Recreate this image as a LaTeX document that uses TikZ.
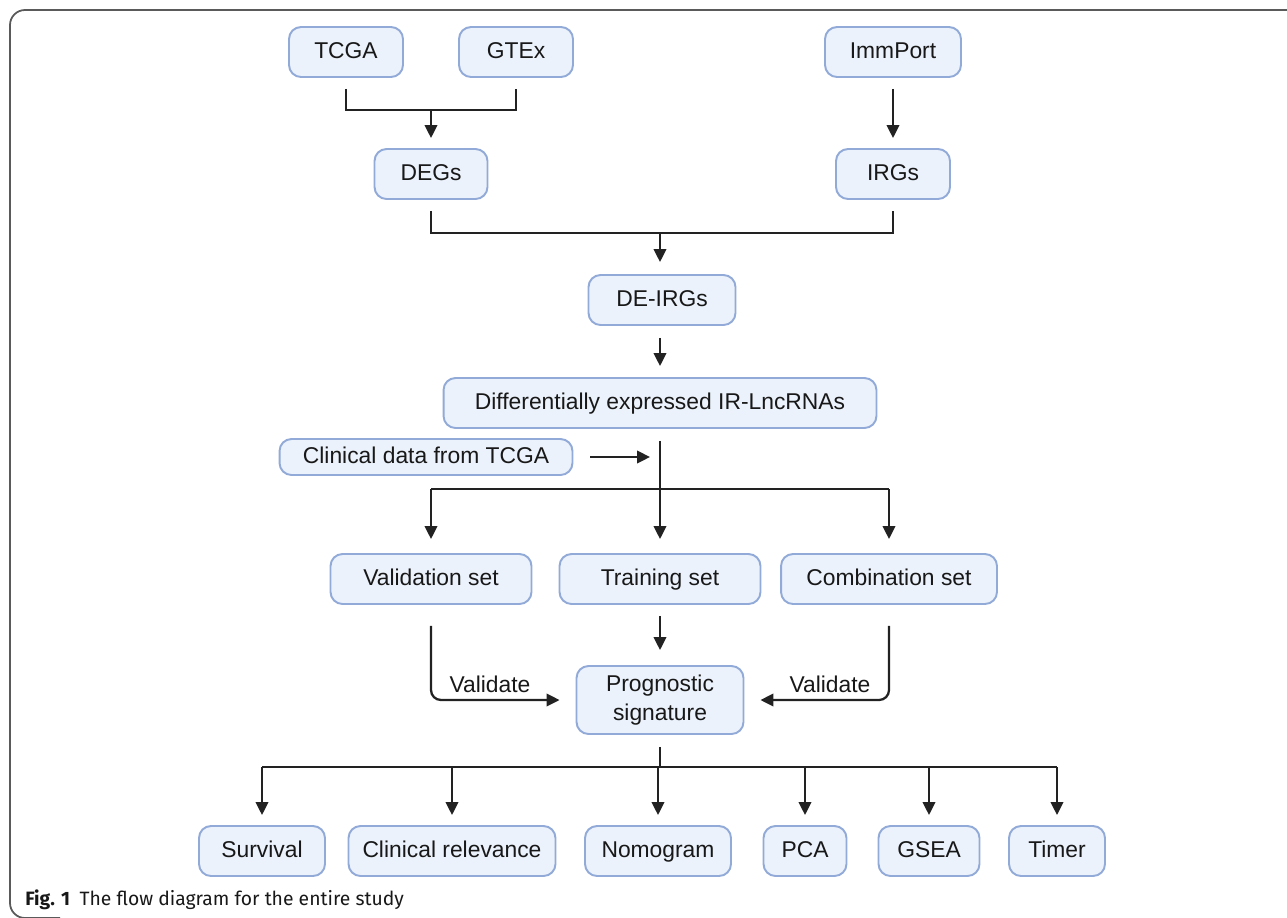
\documentclass[tikz,border=0pt]{standalone}
\usepackage{fontspec}
\setmainfont{Liberation Sans}
\newfontfamily\capfont{Fira Sans}
\usetikzlibrary{arrows.meta}

\definecolor{boxfill}{RGB}{235,242,251}
\definecolor{boxline}{RGB}{146,170,216}
\definecolor{ink}{RGB}{24,24,24}
\definecolor{wire}{RGB}{34,34,34}
\definecolor{framegray}{RGB}{90,90,90}

\begin{document}
\begin{tikzpicture}[x=0.02cm, y=-0.02cm,
  box/.style={draw=boxline, fill=boxfill, line width=1.1pt, rounded corners=0.24cm,
    minimum height=1cm, inner sep=0pt, align=center, text=ink,
    text height=0.9em, text depth=0.18em,
    font=\fontsize{13}{16.5}\selectfont},
  lbl/.style={text=ink, font=\fontsize{13}{16.5}\selectfont},
  link/.style={draw=wire, line width=1.3pt},
  arr/.style={link, -{Triangle[length=0.26cm,width=0.25cm]}}]
  \useasboundingbox (0,0) rectangle (1287,917);
  \draw[framegray, line width=1pt, rounded corners=0.3cm] (1300,10) -- (10,10) -- (10,918) -- (60,918);

  % sources
  \node[box, minimum width=2.28cm] (tcga) at (346,52) {TCGA};
  \node[box, minimum width=2.28cm] (gtex) at (516,52) {GTEx};
  \node[box, minimum width=2.72cm] (immport) at (893,52) {ImmPort};
  \node[box, minimum width=2.26cm] (degs) at (431,174) {DEGs};
  \node[box, minimum width=2.28cm] (irgs) at (893,174) {IRGs};
  \node[box, minimum width=2.94cm] (deirg) at (662,300) {DE-IRGs};
  \node[box, minimum width=8.66cm] (lnc) at (660,403) {Differentially expressed IR-LncRNAs};
  \node[box, minimum width=5.86cm, minimum height=0.72cm] (clin) at (426,457) {Clinical data from TCGA};

  % sets
  \node[box, minimum width=4.02cm] (valid) at (431,579) {Validation set};
  \node[box, minimum width=4.02cm] (train) at (660,579) {Training set};
  \node[box, minimum width=4.32cm] (comb) at (889,579) {Combination set};
  \node[box, text height={}, text depth={}, minimum width=3.34cm, minimum height=1.36cm] (prog) at (660,700) {Prognostic\\signature};

  % analyses
  \node[box, minimum width=2.52cm] (surv) at (262,851) {Survival};
  \node[box, minimum width=4.14cm] (clinrel) at (452,851) {Clinical relevance};
  \node[box, minimum width=2.92cm] (nomo) at (658,851) {Nomogram};
  \node[box, minimum width=1.66cm] (pca) at (805,851) {PCA};
  \node[box, minimum width=2.02cm] (gsea) at (929,851) {GSEA};
  \node[box, minimum width=1.92cm] (timer) at (1057,851) {Timer};

  % connectors
  \coordinate (j1) at (431,110);
  \draw[link, shorten <=0.22cm, shorten >=0.22cm] (tcga.south) |- (j1) -| (gtex.south);
  \draw[arr, shorten >=0.2cm] (j1) -- (degs.north);
  \draw[arr, shorten <=0.22cm, shorten >=0.2cm] (immport) -- (irgs);

  \coordinate (j2) at (660,233);
  \draw[link, shorten <=0.22cm, shorten >=0.22cm] (degs.south) |- (j2) -| (irgs.south);
  \draw[arr, shorten >=0.24cm] (j2) -- (deirg.north -| j2);
  \draw[arr, shorten <=0.24cm, shorten >=0.22cm] (deirg.south -| lnc) -- (lnc.north);

  \coordinate (j3) at (660,489);
  \draw[link, shorten <=0.24cm] (lnc.south) -- (j3);
  \draw[arr, shorten <=0.34cm, shorten >=0.2cm] (clin.east) -- (clin.east -| j3);
  \draw[link] (j3 -| valid) -- (j3 -| comb);
  \foreach \n in {valid,train,comb}
    \draw[arr, shorten >=0.28cm] (j3 -| \n) -- (\n.north);

  \draw[arr, rounded corners=0.2cm, shorten <=0.42cm, shorten >=0.32cm] (valid.south) |- (prog.west);
  \draw[arr, rounded corners=0.2cm, shorten <=0.42cm, shorten >=0.32cm] (comb.south) |- (prog.east);
  \draw[arr, shorten <=0.22cm, shorten >=0.3cm] (train) -- (prog);
  \node[lbl] (val1) at (490,684) {Validate};
  \node[lbl] (val2) at (830,684) {Validate};

  \coordinate (j4) at (660,767);
  \draw[link, shorten <=0.24cm] (prog.south) -- (j4);
  \draw[link] (j4 -| surv) -- (j4 -| timer);
  \foreach \n in {surv,clinrel,nomo,pca,gsea,timer}
    \draw[arr, shorten >=0.2cm] (j4 -| \n) -- (\n.north);

  % caption
  \node[anchor=base west, inner sep=0pt, text=ink, font=\capfont\fontsize{11}{13}\selectfont] (cap) at (25,905)
    {\textbf{Fig. 1}\enspace The flow diagram for the entire study};
\end{tikzpicture}
\end{document}
